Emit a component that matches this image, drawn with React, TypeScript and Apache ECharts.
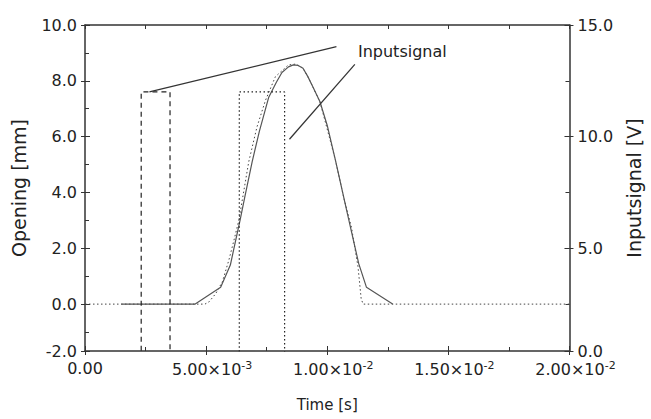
import React, { useEffect, useRef } from "react";
import * as echarts from "echarts";

// ---- data ----
const xTickMantissa = ["0.00", "5.00", "1.00", "1.50", "2.00"];
const xTickExponent = ["", "-3", "-2", "-2", "-2"];

// measured opening (solid)
const openingT = [0.0015, 0.00455, 0.0056, 0.006, 0.0062, 0.0064, 0.0066, 0.0069, 0.0072, 0.00758, 0.0079, 0.00813, 0.0084, 0.0086, 0.0088, 0.009, 0.0092, 0.0094, 0.0097, 0.01, 0.01034, 0.0107, 0.011, 0.0113, 0.01162, 0.0127];
const openingMm = [0, 0, 0.6, 1.4, 2.2, 3.0, 3.85, 5.1, 6.2, 7.4, 7.95, 8.3, 8.5, 8.57, 8.55, 8.45, 8.15, 7.8, 7.25, 6.4, 5.15, 3.75, 2.6, 1.45, 0.6, 0];

// computed opening (dotted)
const simT = [0, 0.00495, 0.00512, 0.0054, 0.00567, 0.00594, 0.00615, 0.00635, 0.00676, 0.0071, 0.00745, 0.00786, 0.0084, 0.0087, 0.009, 0.0092, 0.0097, 0.01034, 0.0107, 0.011, 0.01127, 0.0114, 0.01148, 0.02];
const simMm = [0, 0, 0.08, 0.38, 0.8, 1.58, 2.29, 3.0, 5.1, 6.35, 7.3, 8.15, 8.57, 8.6, 8.45, 8.15, 7.25, 5.15, 3.75, 2.75, 1.34, 0.2, 0, 0];

// input signal pulses
const pulse1T = [0.00232, 0.00232, 0.00351, 0.00351];
const pulse1V = [0, 12, 12, 0];
const pulse2T = [0.00637, 0.00637, 0.00824, 0.00824];
const pulse2V = [0, 12, 12, 0];

// callout
const calloutFrom = [[0.00266, 12], [0.01114, 13.24]];
const calloutTo = [[0.01038, 14.03], [0.00844, 9.88]];
const calloutLabelAt = [0.0131, 13.8];
const calloutText = "Inputsignal";

const zip = (a: number[], b: number[]) => a.map((v, i) => [v, b[i]]);

const FONT = "'DejaVu Sans', Verdana, sans-serif";
const AX = "#333";
const TXT = "#222";

export default function App() {
  const ref = useRef<HTMLDivElement>(null);
  useEffect(() => {
    if (!ref.current) return;
    const chart = echarts.init(ref.current, null, { renderer: "svg" });
    const xCommon = { type: "value", min: 0, max: 0.02, gridIndex: 0 };
    const leftCommon = { type: "value", min: -1.68, max: 10, splitNumber: 5 };
    const rightCommon = { type: "value", min: 0.39, max: 15, splitNumber: 3 };
    const option: any = {
      animation: false,
      backgroundColor: "#fff",
      textStyle: { fontFamily: FONT },
      grid: { left: 85, right: 77, top: 25, bottom: 68, containLabel: false },
      xAxis: [
        {
          ...xCommon,
          position: "bottom",
          interval: 0.005,
          name: "Time [s]",
          nameLocation: "middle",
          nameGap: 46,
          nameTextStyle: { fontSize: 15, color: TXT, fontFamily: FONT },
          axisLine: { onZero: false, lineStyle: { color: AX, width: 1.5 } },
          axisTick: { inside: true, length: 5, lineStyle: { color: AX } },
          minorTick: { show: true, splitNumber: 2, length: 4, lineStyle: { color: AX } },
          splitLine: { show: false },
          axisLabel: {
            fontSize: 16,
            color: TXT,
            margin: 9,
            fontFamily: FONT,
            formatter: (v: number) => {
              const i = Math.round(v / 0.005);
              if (!xTickExponent[i]) return xTickMantissa[i];
              return `{b|${xTickMantissa[i]}×10}{s|${xTickExponent[i]}}`;
            },
            rich: {
              b: { fontSize: 16, color: TXT, fontFamily: FONT, padding: [0, 0, 0, 12] },
              s: { fontSize: 11, color: TXT, fontFamily: FONT, verticalAlign: "top", padding: [0, 0, 8, 0] },
            },
          },
        },
        {
          ...xCommon,
          position: "bottom",
          interval: 0.005,
          axisLine: { show: false, onZero: false },
          axisTick: { inside: false, length: 4, lineStyle: { color: AX } },
          axisLabel: { show: false },
          splitLine: { show: false },
        },
        {
          ...xCommon,
          position: "top",
          interval: 0.0025,
          axisLine: { onZero: false, lineStyle: { color: AX, width: 1.5 } },
          axisTick: { inside: true, length: 4, lineStyle: { color: AX } },
          axisLabel: { show: false },
          splitLine: { show: false },
        },
      ],
      yAxis: [
        {
          ...leftCommon,
          position: "left",
          name: "Opening [mm]",
          nameLocation: "middle",
          nameGap: 57,
          nameTextStyle: { fontSize: 19, color: TXT, fontFamily: FONT },
          axisLine: { onZero: false, lineStyle: { color: AX, width: 1.5 } },
          axisTick: { inside: true, length: 5, lineStyle: { color: AX } },
          minorTick: { show: true, splitNumber: 2, length: 4, lineStyle: { color: AX } },
          splitLine: { show: false },
          axisLabel: {
            fontSize: 16,
            color: TXT,
            margin: 8,
            fontFamily: FONT,
            formatter: (v: number) => (v < -1 ? "-2.0" : v.toFixed(1)),
          },
        },
        {
          ...rightCommon,
          position: "right",
          name: "Inputsignal [V]",
          nameLocation: "middle",
          nameGap: 41,
          nameTextStyle: { fontSize: 19, color: TXT, fontFamily: FONT },
          axisLine: { onZero: false, lineStyle: { color: AX, width: 1.5 } },
          axisTick: { inside: true, length: 5, lineStyle: { color: AX } },
          minorTick: { show: true, splitNumber: 2, length: 4, lineStyle: { color: AX } },
          splitLine: { show: false },
          axisLabel: {
            fontSize: 16,
            color: TXT,
            margin: 8,
            fontFamily: FONT,
            formatter: (v: number) => (v < 1 ? "0.0" : v.toFixed(1)),
          },
        },
        {
          ...leftCommon,
          position: "left",
          axisLine: { show: false, onZero: false },
          axisTick: { inside: false, length: 4, lineStyle: { color: AX } },
          axisLabel: { show: false },
          splitLine: { show: false },
        },
        {
          ...rightCommon,
          position: "right",
          axisLine: { show: false, onZero: false },
          axisTick: { inside: false, length: 4, lineStyle: { color: AX } },
          axisLabel: { show: false },
          splitLine: { show: false },
        },
      ],
      series: [
        {
          type: "line",
          name: "Opening (dotted)",
          xAxisIndex: 0,
          yAxisIndex: 0,
          data: zip(simT, simMm),
          symbol: "none",
          lineStyle: { color: "#444", width: 1, type: [1.5, 2.5] },
          z: 2,
        },
        {
          type: "line",
          name: "Opening",
          xAxisIndex: 0,
          yAxisIndex: 0,
          data: zip(openingT, openingMm),
          symbol: "none",
          lineStyle: { color: "#555", width: 1.2 },
          z: 3,
        },
        {
          type: "line",
          name: "Input 1",
          xAxisIndex: 0,
          yAxisIndex: 1,
          data: zip(pulse1T, pulse1V),
          symbol: "none",
          lineStyle: { color: "#222", width: 1.2, type: [5, 4] },
          markLine: {
            silent: true,
            symbol: ["none", "none"],
            label: { show: false },
            lineStyle: { color: "#333", width: 1.2, type: "solid" },
            data: calloutFrom.map((f, i) => [{ coord: f }, { coord: calloutTo[i] }]),
          },
          markPoint: {
            silent: true,
            symbol: "circle",
            symbolSize: 1,
            itemStyle: { color: "rgba(0,0,0,0)" },
            label: {
              show: true,
              position: "inside",
              formatter: calloutText,
              fontSize: 16,
              color: TXT,
              fontFamily: FONT,
            },
            data: [{ coord: calloutLabelAt }],
          },
        },
        {
          type: "line",
          name: "Input 2",
          xAxisIndex: 0,
          yAxisIndex: 1,
          data: zip(pulse2T, pulse2V),
          symbol: "none",
          lineStyle: { color: "#222", width: 1.2, type: [1.5, 2.5] },
        },
      ],
    };
    chart.setOption(option);
    return () => chart.dispose();
  }, []);
  return (
    <div
      ref={ref}
      style={{ position: "fixed", left: 0, top: 0, width: 651, height: 419, background: "#fff" }}
    />
  );
}
